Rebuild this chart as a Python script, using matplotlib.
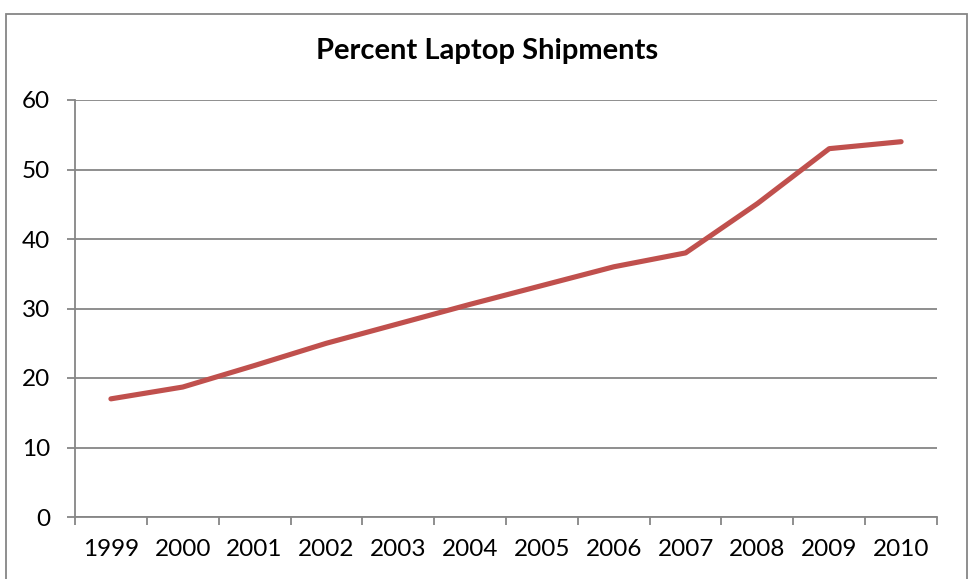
import matplotlib
matplotlib.use("Agg")
import matplotlib.pyplot as plt
from matplotlib.patches import Rectangle

years = ["1999", "2000", "2001", "2002", "2003", "2004", "2005", "2006", "2007", "2008", "2009", "2010"]
percent = [17.0, 18.7, 21.8, 25.0, 27.8, 30.6, 33.3, 36.0, 38.0, 45.1, 53.0, 54.0]
yticks = [0, 10, 20, 30, 40, 50, 60]
title = "Percent Laptop Shipments"

plt.rcParams['font.family'] = ['Lato', 'DejaVu Sans']
W, H = 968, 579
fig = plt.figure(figsize=(W / 100, H / 100), dpi=100)
ax = fig.add_axes([75 / W, 1 - 517 / H, (937 - 75) / W, (517 - 100) / H])

grey = '#868686'
x = list(range(len(years)))
ax.plot(x, percent, color='#C0504D', lw=3.7, solid_capstyle='round', solid_joinstyle='round', zorder=3)

ax.set_xlim(-0.5, len(years) - 0.5)
ax.set_ylim(0, 60)
ax.set_yticks(yticks)
ax.set_yticklabels([str(v) for v in yticks])
ax.yaxis.grid(True, color=grey, lw=1.3)
ax.set_axisbelow(True)

ax.set_xticks([i - 0.5 for i in range(len(years) + 1)])
ax.set_xticklabels([])
ax.set_xticks(x, minor=True)
ax.set_xticklabels(years, minor=True)
ax.tick_params(axis='x', which='major', length=6, width=1.3, color=grey, direction='out')
ax.tick_params(axis='x', which='minor', length=0, pad=16, labelsize=17.5)
ax.tick_params(axis='y', length=6, width=1.3, color=grey, pad=12, labelsize=17.5)

for s in ['top', 'right']:
    ax.spines[s].set_visible(False)
for s in ['left', 'bottom']:
    ax.spines[s].set_color(grey)
    ax.spines[s].set_linewidth(1.3)

fig.text(487 / W, 1 - 51 / H, title, ha='center', va='center', fontsize=21, fontweight='bold')

fig.patches.append(Rectangle((6 / W, -0.1), (967 - 6) / W, 1.1 - 14 / H, transform=fig.transFigure,
                             fill=False, edgecolor=grey, lw=1.3))

fig.savefig("out.png", dpi=100)
